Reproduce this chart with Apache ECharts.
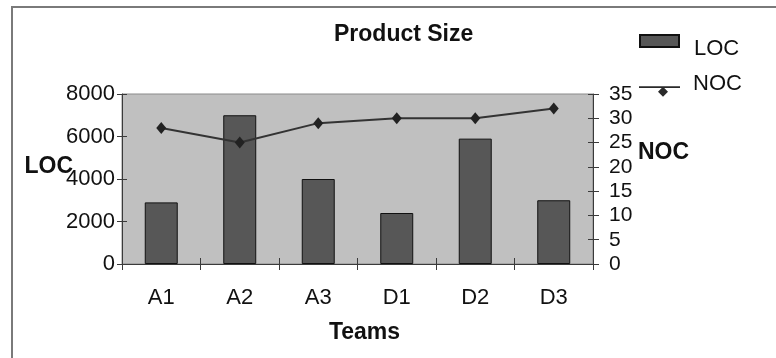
<!DOCTYPE html>
<html>
<head>
<meta charset="utf-8">
<script src="https://cdn.jsdelivr.net/npm/echarts@6/dist/echarts.min.js"></script>
<style>
  html, body { margin: 0; padding: 0; background: #fff; overflow: hidden; }
  #chart { width: 776px; height: 358px; }
</style>
</head>
<body>
<div id="chart"></div>
<script>
// Teams and their product size measures
const teams = ['A1', 'A2', 'A3', 'D1', 'D2', 'D3'];
const locValues = [2900, 7000, 4000, 2400, 5900, 3000];
const nocValues = [28, 25, 29, 30, 30, 32];
const locTicks = { min: 0, max: 8000, interval: 2000 };
const nocTicks = { min: 0, max: 35, interval: 5 };

const FONT = "'Liberation Sans', Arial, sans-serif";
const AXIS_COLOR = '#3a3a3a';
const TEXT_COLOR = '#111';

const chart = echarts.init(document.getElementById('chart'), null, { renderer: 'canvas' });

// invisible companion axes draw the inner half of the crossing tick marks
function innerTickY(position, ticks) {
  return {
    type: 'value', position: position,
    min: ticks.min, max: ticks.max, interval: ticks.interval,
    axisLine: { show: false },
    axisTick: { show: true, inside: true, length: 5, lineStyle: { color: AXIS_COLOR, width: 1 } },
    axisLabel: { show: false },
    splitLine: { show: false }
  };
}

chart.setOption({
  backgroundColor: '#ffffff',
  animation: false,
  title: {
    text: 'Product Size',
    left: 334, top: 23, padding: 0,
    textStyle: { fontFamily: FONT, fontSize: 23, fontWeight: 'bold', color: TEXT_COLOR }
  },
  legend: [
    {
      data: [{ name: 'LOC', icon: 'rect' }],
      left: 639, top: 22, padding: 0,
      itemWidth: 39, itemHeight: 12,
      selectedMode: false,
      formatter: function (name) { return '\n' + name; },
      textStyle: { fontFamily: FONT, fontSize: 22, color: TEXT_COLOR, lineHeight: 16, padding: [0, 0, 0, 10] }
    },
    {
      data: [{
        name: 'NOC',
        icon: 'path://M0,0H41V1.6H0Z M24,0.3L29,5.3L24,10.3L19,5.3Z',
        itemStyle: { color: '#2a2a2a' }
      }],
      left: 639, top: 73, padding: 0,
      itemWidth: 41, itemHeight: 10.3,
      selectedMode: false,
      formatter: function (name) { return name + '\n '; },
      textStyle: { fontFamily: FONT, fontSize: 22, color: TEXT_COLOR, lineHeight: 15, padding: [0, 0, 0, 8] }
    }
  ],
  grid: {
    left: 122, right: 183, top: 94, bottom: 94,
    show: true, backgroundColor: '#c0c0c0', borderColor: '#8a8a8a', borderWidth: 1,
    outerBoundsMode: 'none'
  },
  // frame around the chart area
  graphic: [{
    type: 'rect',
    shape: { x: 12, y: 7, width: 820, height: 400 },
    style: { fill: 'none', stroke: '#7a7a7a', lineWidth: 2 },
    silent: true, z: -1
  }],
  xAxis: [
    {
      type: 'category', data: teams, position: 'bottom',
      name: 'Teams', nameLocation: 'middle', nameGap: 57,
      nameTextStyle: { fontFamily: FONT, fontSize: 23, fontWeight: 'bold', color: TEXT_COLOR, padding: [0, 0, 0, 14] },
      axisLine: { show: true, lineStyle: { color: AXIS_COLOR, width: 1 } },
      axisTick: { show: true, length: 6, lineStyle: { color: AXIS_COLOR, width: 1 } },
      axisLabel: { fontFamily: FONT, fontSize: 22, color: TEXT_COLOR, margin: 23 },
      splitLine: { show: false }
    },
    {
      type: 'category', data: teams, position: 'bottom',
      axisLine: { show: false },
      axisTick: { show: true, inside: true, length: 6, lineStyle: { color: AXIS_COLOR, width: 1 } },
      axisLabel: { show: false },
      splitLine: { show: false }
    }
  ],
  yAxis: [
    {
      type: 'value', position: 'left',
      min: locTicks.min, max: locTicks.max, interval: locTicks.interval,
      name: 'LOC\n ', nameLocation: 'middle', nameRotate: 0, nameGap: 49, nameMoveOverlap: false,
      nameTextStyle: { fontFamily: FONT, fontSize: 23, fontWeight: 'bold', color: TEXT_COLOR, lineHeight: 24 },
      axisLine: { show: true, lineStyle: { color: AXIS_COLOR, width: 1 } },
      axisTick: { show: true, length: 5, lineStyle: { color: AXIS_COLOR, width: 1 } },
      axisLabel: { fontFamily: FONT, fontSize: 22, color: TEXT_COLOR, margin: 7, formatter: function (v) { return String(v); } },
      splitLine: { show: false }
    },
    {
      type: 'value', position: 'right',
      min: nocTicks.min, max: nocTicks.max, interval: nocTicks.interval,
      name: 'NOC\n ', nameLocation: 'middle', nameRotate: 0, nameGap: 45, nameMoveOverlap: false,
      nameTextStyle: { fontFamily: FONT, fontSize: 23, fontWeight: 'bold', color: TEXT_COLOR, lineHeight: 52 },
      axisLine: { show: true, lineStyle: { color: AXIS_COLOR, width: 1 } },
      axisTick: { show: true, length: 6, lineStyle: { color: AXIS_COLOR, width: 1 } },
      axisLabel: { fontFamily: FONT, fontSize: 21, color: TEXT_COLOR, margin: 16 },
      splitLine: { show: false }
    },
    innerTickY('left', locTicks),
    innerTickY('right', nocTicks)
  ],
  series: [
    {
      name: 'LOC', type: 'bar', data: locValues,
      xAxisIndex: 0, yAxisIndex: 0,
      barWidth: '42%',
      itemStyle: { color: '#575757', borderColor: '#111', borderWidth: 1 },
      z: 2
    },
    {
      name: 'NOC', type: 'line', data: nocValues,
      xAxisIndex: 0, yAxisIndex: 1,
      symbol: 'diamond', symbolSize: [10, 12],
      lineStyle: { color: '#333', width: 2 },
      itemStyle: { color: '#222' },
      z: 3
    }
  ]
});
</script>
</body>
</html>
